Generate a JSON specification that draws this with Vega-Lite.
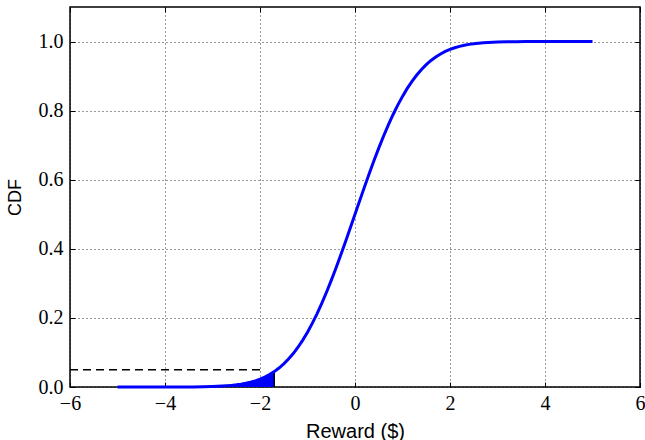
{
  "$schema": "https://vega.github.io/schema/vega-lite/v6.json",
  "width": 570,
  "height": 380,
  "autosize": "none",
  "padding": {"left": 70, "top": 7, "right": 5, "bottom": 53},
  "config": {
    "view": {"stroke": "#000", "strokeWidth": 1.5},
    "axis": {
      "domain": false,
      "tickColor": "#000",
      "tickSize": -5,
      "tickWidth": 1,
      "labelFont": "'Liberation Serif', 'DejaVu Serif', serif",
      "labelFontSize": 20,
      "labelColor": "#000",
      "titleFont": "'Liberation Sans', Arial, sans-serif",
      "titleFontWeight": "normal",
      "titleColor": "#000",
      "gridColor": "#000",
      "gridOpacity": 0.8,
      "gridDash": [1, 3],
      "gridWidth": 1
    }
  },
  "datasets": {
    "cdf": [
      {"x": -5.0, "p": 0.0}, {"x": -4.5, "p": 0.000003}, {"x": -4.0, "p": 0.00003},
      {"x": -3.8, "p": 0.00007}, {"x": -3.6, "p": 0.00016}, {"x": -3.4, "p": 0.0003},
      {"x": -3.2, "p": 0.0007}, {"x": -3.0, "p": 0.00135}, {"x": -2.9, "p": 0.0019},
      {"x": -2.8, "p": 0.0026}, {"x": -2.7, "p": 0.0035}, {"x": -2.6, "p": 0.0047},
      {"x": -2.5, "p": 0.0062}, {"x": -2.4, "p": 0.0082}, {"x": -2.3, "p": 0.0107},
      {"x": -2.2, "p": 0.0139}, {"x": -2.1, "p": 0.0179}, {"x": -2.0, "p": 0.0228},
      {"x": -1.9, "p": 0.0287}, {"x": -1.8, "p": 0.0359}, {"x": -1.7, "p": 0.0446},
      {"x": -1.6, "p": 0.0548}, {"x": -1.5, "p": 0.0668}, {"x": -1.4, "p": 0.0808},
      {"x": -1.3, "p": 0.0968}, {"x": -1.2, "p": 0.1151}, {"x": -1.1, "p": 0.1357},
      {"x": -1.0, "p": 0.1587}, {"x": -0.9, "p": 0.1841}, {"x": -0.8, "p": 0.2119},
      {"x": -0.7, "p": 0.242}, {"x": -0.6, "p": 0.2743}, {"x": -0.5, "p": 0.3085},
      {"x": -0.4, "p": 0.3446}, {"x": -0.3, "p": 0.3821}, {"x": -0.2, "p": 0.4207},
      {"x": -0.1, "p": 0.4602}, {"x": 0.0, "p": 0.5}, {"x": 0.1, "p": 0.5398},
      {"x": 0.2, "p": 0.5793}, {"x": 0.3, "p": 0.6179}, {"x": 0.4, "p": 0.6554},
      {"x": 0.5, "p": 0.6915}, {"x": 0.6, "p": 0.7257}, {"x": 0.7, "p": 0.758},
      {"x": 0.8, "p": 0.7881}, {"x": 0.9, "p": 0.8159}, {"x": 1.0, "p": 0.8413},
      {"x": 1.1, "p": 0.8643}, {"x": 1.2, "p": 0.8849}, {"x": 1.3, "p": 0.9032},
      {"x": 1.4, "p": 0.9192}, {"x": 1.5, "p": 0.9332}, {"x": 1.6, "p": 0.9452},
      {"x": 1.7, "p": 0.9554}, {"x": 1.8, "p": 0.9641}, {"x": 1.9, "p": 0.9713},
      {"x": 2.0, "p": 0.9772}, {"x": 2.1, "p": 0.9821}, {"x": 2.2, "p": 0.9861},
      {"x": 2.3, "p": 0.9893}, {"x": 2.4, "p": 0.9918}, {"x": 2.5, "p": 0.9938},
      {"x": 2.6, "p": 0.9953}, {"x": 2.7, "p": 0.9965}, {"x": 2.8, "p": 0.9974},
      {"x": 2.9, "p": 0.9981}, {"x": 3.0, "p": 0.99865}, {"x": 3.2, "p": 0.9993},
      {"x": 3.4, "p": 0.9997}, {"x": 3.6, "p": 0.99984}, {"x": 3.8, "p": 0.99993},
      {"x": 4.0, "p": 0.99997}, {"x": 4.5, "p": 0.999997}, {"x": 5.0, "p": 1.0}
    ],
    "level": [{"x": -6, "x2": -1.95, "p": 0.05}],
    "edge": [{"x": -1.7, "p": 0.0446, "p0": 0}]
  },
  "layer": [
    {
      "data": {"name": "cdf"},
      "transform": [{"filter": "datum.x <= -1.7"}],
      "mark": {"type": "area", "color": "#0000ff", "opacity": 1},
      "encoding": {
        "x": {
          "field": "x", "type": "quantitative",
          "scale": {"domain": [-6, 6], "nice": false, "zero": false},
          "axis": {
            "values": [-6, -4, -2, 0, 2, 4, 6], "format": "d",
            "title": "Reward ($)", "titleFontSize": 20,
            "labelPadding": 11, "labelFlush": false,
            "titleBaseline": "alphabetic", "titleY": 50
          }
        },
        "y": {
          "field": "p", "type": "quantitative",
          "scale": {"domain": [0, 1.1], "nice": false, "zero": false},
          "axis": {
            "values": [0, 0.2, 0.4, 0.6, 0.8, 1.0], "format": ".1f",
            "title": "CDF", "titleFontSize": 18,
            "labelPadding": 12, "labelFlush": false,
            "titleX": -46, "titleBaseline": "bottom"
          }
        }
      }
    },
    {
      "data": {"name": "edge"},
      "mark": {"type": "rule", "color": "#000", "strokeWidth": 1.5},
      "encoding": {
        "x": {"field": "x", "type": "quantitative", "axis": {"orient": "top", "labels": false, "title": null, "grid": false, "values": [-6, -4, -2, 0, 2, 4, 6]}},
        "y": {"field": "p0", "type": "quantitative", "axis": {"orient": "right", "labels": false, "title": null, "grid": false, "values": [0, 0.2, 0.4, 0.6, 0.8, 1.0]}},
        "y2": {"field": "p"}
      }
    },
    {
      "data": {"name": "level"},
      "mark": {"type": "rule", "color": "#000", "strokeWidth": 1.5, "strokeDash": [8, 5]},
      "encoding": {
        "x": {"field": "x", "type": "quantitative", "axis": null},
        "x2": {"field": "x2"},
        "y": {"field": "p", "type": "quantitative", "axis": null}
      }
    },
    {
      "data": {"name": "cdf"},
      "mark": {"type": "line", "color": "#0000ff", "strokeWidth": 3},
      "encoding": {
        "x": {"field": "x", "type": "quantitative", "axis": null},
        "y": {"field": "p", "type": "quantitative", "axis": null}
      }
    }
  ],
  "resolve": {"axis": {"x": "independent", "y": "independent"}}
}
